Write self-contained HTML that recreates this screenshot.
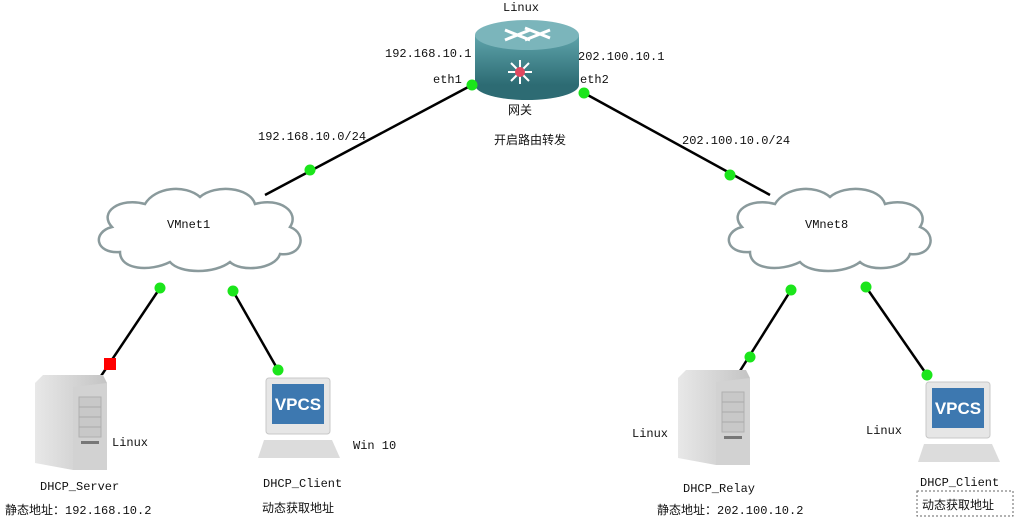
<!DOCTYPE html>
<html><head><meta charset="utf-8"><style>
html,body{margin:0;padding:0;background:#fff}
svg text{font-family:"Liberation Mono","Noto Sans CJK SC",monospace;font-size:12px;fill:#111}
</style></head><body>
<svg width="1024" height="524" viewBox="0 0 1024 524" xmlns="http://www.w3.org/2000/svg">
<defs>
<linearGradient id="rg" x1="0" y1="0" x2="0" y2="1"><stop offset="0" stop-color="#5fa4ab"/><stop offset="1" stop-color="#2d6b73"/></linearGradient>
<linearGradient id="sv" x1="0" y1="0" x2="1" y2="0"><stop offset="0" stop-color="#e8e8e8"/><stop offset="1" stop-color="#c4c4c4"/></linearGradient>
<g id="cloud"><path d="M30,70 C5,72 2,50 22,45 C8,30 30,15 55,22 C65,5 95,2 110,15 C125,2 160,5 165,22 C190,15 210,30 200,45 C218,52 212,75 190,72 C185,88 150,90 140,80 C125,92 90,92 80,80 C60,90 30,88 30,70 Z" fill="#fff" stroke="#8a9a9c" stroke-width="2.5"/></g>
<g id="server">
<path d="M0,8 L8,0 L68,0 L72,8 L72,95 L38,95 L0,88 Z" fill="url(#sv)"/>
<path d="M38,12 L72,8 L72,95 L38,95 Z" fill="#d2d2d2"/>
<rect x="44" y="22" width="22" height="40" fill="#c8c8c8" stroke="#b0b0b0"/>
<line x1="44" y1="32" x2="66" y2="32" stroke="#aaa"/><line x1="44" y1="42" x2="66" y2="42" stroke="#aaa"/><line x1="44" y1="52" x2="66" y2="52" stroke="#aaa"/>
<rect x="46" y="66" width="18" height="3" fill="#777"/>
</g>
<g id="pc">
<rect x="8" y="0" width="64" height="56" rx="3" fill="#e6e6e6" stroke="#c8c8c8"/>
<rect x="14" y="6" width="52" height="40" fill="#3d78b0"/>
<text x="40" y="32" text-anchor="middle" style="font-family:'Liberation Sans',sans-serif;font-weight:bold;font-size:17px;fill:#fff">VPCS</text>
<path d="M6,62 L74,62 L82,80 L0,80 Z" fill="#dcdcdc"/>
</g>
</defs>
<g stroke="#000" stroke-width="2.5">
<line x1="472" y1="85" x2="265" y2="195"/>
<line x1="584" y1="93" x2="770" y2="195"/>
<line x1="160" y1="288" x2="95" y2="385"/>
<line x1="233" y1="291" x2="278" y2="370"/>
<line x1="791" y1="290" x2="733" y2="382"/>
<line x1="866" y1="287" x2="927" y2="375"/>
</g>
<use href="#cloud" x="90" y="182"/>
<use href="#cloud" x="720" y="182"/>
<!-- router -->
<ellipse cx="527" cy="85" rx="52" ry="15" fill="#2d6b73"/>
<rect x="475" y="35" width="104" height="50" fill="url(#rg)"/>
<ellipse cx="527" cy="35" rx="52" ry="15" fill="#7bb5bb"/>
<g stroke="#fff" stroke-width="3"><line x1="505" y1="30" x2="530" y2="40"/><line x1="525" y1="28" x2="550" y2="38"/><line x1="505" y1="40" x2="530" y2="30"/><line x1="525" y1="40" x2="550" y2="30"/></g>
<g stroke="#fff" stroke-width="2"><line x1="520" y1="60" x2="520" y2="84"/><line x1="508" y1="72" x2="532" y2="72"/><line x1="511" y1="63" x2="529" y2="81"/><line x1="529" y1="63" x2="511" y2="81"/></g>
<circle cx="520" cy="72" r="5" fill="#e04860"/>
<use href="#server" x="35" y="375"/>
<use href="#server" x="678" y="370"/>
<use href="#pc" x="258" y="378"/>
<use href="#pc" x="918" y="382"/>
<g fill="#1be51b">
<circle cx="472" cy="85" r="5.5"/><circle cx="584" cy="93" r="5.5"/>
<circle cx="310" cy="170" r="5.5"/><circle cx="730" cy="175" r="5.5"/>
<circle cx="160" cy="288" r="5.5"/><circle cx="233" cy="291" r="5.5"/>
<circle cx="278" cy="370" r="5.5"/><circle cx="791" cy="290" r="5.5"/>
<circle cx="750" cy="357" r="5.5"/><circle cx="866" cy="287" r="5.5"/>
<circle cx="927" cy="375" r="5.5"/>
</g>
<rect x="104" y="358" width="12" height="12" fill="#f00"/>
<text x="503" y="11">Linux</text>
<text x="385" y="57">192.168.10.1</text>
<text x="433" y="83">eth1</text>
<text x="578" y="60">202.100.10.1</text>
<text x="580" y="83">eth2</text>
<text x="508" y="114">网关</text>
<text x="494" y="144">开启路由转发</text>
<text x="258" y="140">192.168.10.0/24</text>
<text x="682" y="144">202.100.10.0/24</text>
<text x="167" y="228">VMnet1</text>
<text x="805" y="228">VMnet8</text>
<text x="112" y="446">Linux</text>
<text x="40" y="490">DHCP_Server</text>
<text x="5" y="514">静态地址：192.168.10.2</text>
<text x="353" y="449">Win 10</text>
<text x="263" y="487">DHCP_Client</text>
<text x="262" y="512">动态获取地址</text>
<text x="632" y="437">Linux</text>
<text x="683" y="492">DHCP_Relay</text>
<text x="657" y="514">静态地址：202.100.10.2</text>
<text x="866" y="434">Linux</text>
<text x="920" y="486">DHCP_Client</text>
<rect x="917" y="491" width="96" height="25" fill="none" stroke="#666" stroke-dasharray="2,2"/>
<text x="922" y="509">动态获取地址</text>
</svg>
</body></html>
